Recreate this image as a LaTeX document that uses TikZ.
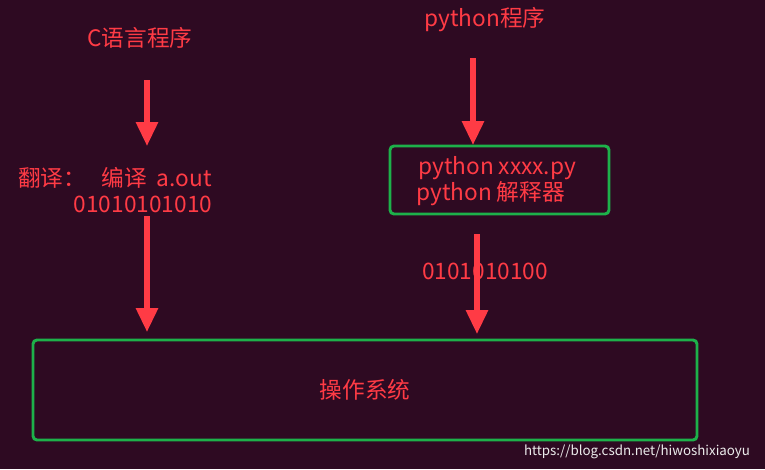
\documentclass[tikz,border=0pt]{standalone}
\usepackage{fontspec}
\setmainfont{Noto Sans CJK SC}
\usetikzlibrary{arrows.meta}
\definecolor{bg}{HTML}{2E0A22}
\definecolor{rd}{HTML}{FF3B45}
\definecolor{gr}{HTML}{1DB14A}
\tikzset{
  lbl/.style={text=rd,font=\fontsize{17}{20}\selectfont,inner sep=0pt},
  box/.style={draw=gr,line width=2.2pt,rounded corners=3pt},
  arr/.style={draw=rd,line width=3.8pt,-{Triangle[length=18pt,width=16pt]}}
}
\begin{document}
\begin{tikzpicture}[x=0.75pt,y=-0.75pt]
\fill[bg] (0,0) rectangle (765,469);
\useasboundingbox (0,0) rectangle (765,469);
\node[lbl] (c) at (140,38) {C语言程序};
\coordinate (a1s) at (147,80); \coordinate (a1e) at (147,146);
\draw[arr] (a1s) -- (a1e);
\node[lbl,anchor=west] (tr) at (18,178) {翻译：\ \ \ 编译\ \ a.out};
\node[lbl] (bin1) at (143,204) {01010101010};
\coordinate (a2s) at (147,216); \coordinate (a2e) at (147,332);
\draw[arr] (a2s) -- (a2e);
\node[lbl] (py) at (485,20) {python程序};
\coordinate (a3s) at (473,58); \coordinate (a3e) at (473,145);
\draw[arr] (a3s) -- (a3e);
\draw[box] (390,146) rectangle (609,214);
\node[lbl,anchor=west] (p1) at (418,168) {python xxxx.py};
\node[lbl,anchor=west] (p2) at (416,194) {python 解释器};
\node[lbl] (bin2) at (485,271) {0101010100};
\coordinate (a4s) at (477,234); \coordinate (a4e) at (477,334);
\draw[arr] (a4s) -- (a4e);
\draw[box] (33,340) rectangle (697,440) node[lbl,midway] (os) {操作系统};
\node[text=white!85!gray,font=\fontsize{10}{12}\selectfont,inner sep=0pt] (wm) at (637,452) {https://blog.csdn.net/hiwoshixiaoyu};
\end{tikzpicture}
\end{document}
